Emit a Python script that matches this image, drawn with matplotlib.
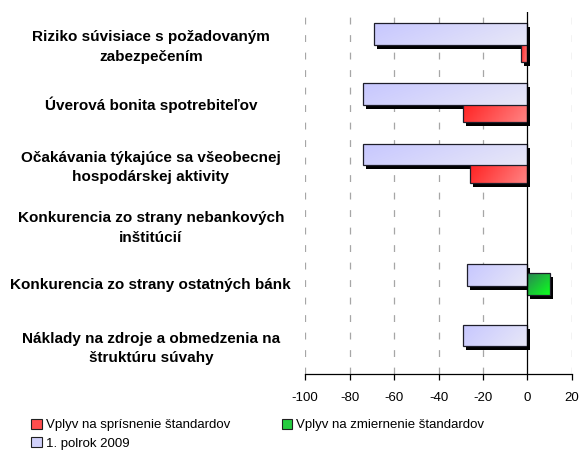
import numpy as np
import matplotlib
matplotlib.use('Agg')
import matplotlib.pyplot as plt
import matplotlib.transforms as mtransforms
from matplotlib.patches import Patch

plt.rcParams['font.family'] = ['Liberation Sans', 'DejaVu Sans']

# data (blank = no bar)
kategorie = ['Riziko súvisiace s požadovaným\nzabezpečením',
             'Úverová bonita spotrebiteľov',
             'Očakávania týkajúce sa všeobecnej\nhospodárskej aktivity',
             'Konkurencia zo strany nebankových\ninštitúcií',
             'Konkurencia zo strany ostatných bánk',
             'Náklady na zdroje a obmedzenia na\nštruktúru súvahy']
sprisnenie = [-3, -29, -26, 0, 0, 0]
zmiernenie = [0, 0, 0, 0, 10, 0]
polrok = [-69, -74, -74, 0, -27, -29]
x_ticks = [-100, -80, -60, -40, -20, 0, 20]

nazvy = ['Vplyv na sprísnenie štandardov', 'Vplyv na zmiernenie štandardov', '1. polrok 2009']

fig = plt.figure(figsize=(5.79, 4.51), dpi=100)
ax = fig.add_axes([0.5268, 0.170, 0.4611, 0.8025])

y = np.arange(len(kategorie))
vyska = 0.357
posun = 0.145

# (hodnoty, posun, farba vlavo, farba vpravo, vaha vertikalneho gradientu)
serie = [
    (sprisnenie, posun, (1.0, 0.12, 0.12), (1.0, 0.52, 0.52), 0.2),
    (zmiernenie, 0.0, (0.17, 0.52, 0.33), (0.05, 1.0, 0.12), 0.5),
    (polrok, -posun, (0.78, 0.78, 1.0), (0.91, 0.91, 0.97), 0.25),
]

tien = ax.transData + mtransforms.ScaledTranslation(3/100, -4/100, fig.dpi_scale_trans)

# tiene najprv
for hod, dy, c0, c1, wv in serie:
    for i, v in enumerate(hod):
        if v == 0:
            continue
        b = ax.barh(y[i] + dy, v, height=vyska, color='black', zorder=1.5)
        b[0].set_transform(tien)

# potom samotne stlpce s gradientom
z = 2
for hod, dy, c0, c1, wv in serie:
    for i, v in enumerate(hod):
        if v == 0:
            continue
        b = ax.barh(y[i] + dy, v, height=vyska, color=c0, zorder=z)
        u = np.linspace(0, 1, 80)[None, :]
        w = np.linspace(0, 1, 20)[:, None]
        t = np.clip((1 - wv) * u + wv * w, 0, 1)
        img = np.zeros((20, 80, 3))
        for k in range(3):
            img[:, :, k] = c0[k] + (c1[k] - c0[k]) * t
        yc = y[i] + dy
        im = ax.imshow(img, extent=(min(v, 0), max(v, 0), yc + vyska/2, yc - vyska/2),
                       aspect='auto', origin='upper', zorder=z + 0.01, interpolation='bilinear')
        im.set_clip_path(b[0])
        ax.barh(yc, v, height=vyska, fill=False, edgecolor='#1e1e2a', linewidth=0.9, zorder=z + 0.02)
        z += 0.1

ax.set_xlim(-100, 20)
ax.set_ylim(len(kategorie) - 0.5, -0.5)
ax.set_xticks(x_ticks)
ax.set_xticklabels([str(t) for t in x_ticks], fontsize=9.5)
ax.set_yticks(y)
ax.set_yticklabels(kategorie, fontsize=11, fontweight='bold', ha='center', linespacing=1.5)
ax.tick_params(axis='y', length=0, pad=111)
ax.tick_params(axis='x', direction='out', length=4, width=0.9, pad=9, colors='black')

for t in x_ticks:
    if t != 0:
        ax.axvline(t, color='#a6a6a6', linewidth=0.9, linestyle=(0, (5.5, 8.5)), zorder=1)
ax.axvline(0, color='black', linewidth=0.9, zorder=3)

for s in ['top', 'right', 'left']:
    ax.spines[s].set_visible(False)
ax.spines['bottom'].set_linewidth(0.9)

handles = [Patch(facecolor=(1.0, 0.3, 0.3), edgecolor='#202020', linewidth=0.8),
           Patch(facecolor=(0.82, 0.82, 0.98), edgecolor='#202020', linewidth=0.8),
           Patch(facecolor=(0.15, 0.8, 0.25), edgecolor='#202020', linewidth=0.8)]
labels = [nazvy[0], nazvy[2], nazvy[1]]
fig.legend(handles, labels, ncol=2, loc='upper left', bbox_to_anchor=(0.043, 0.086),
           frameon=False, fontsize=9.5, handlelength=0.8, handleheight=0.8,
           handletextpad=0.3, columnspacing=3.9, labelspacing=0.45, borderpad=0)

fig.savefig('out.png', dpi=100)
